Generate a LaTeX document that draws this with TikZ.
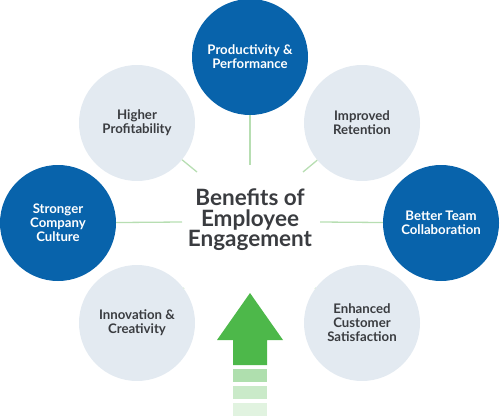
\documentclass[tikz,border=0pt]{standalone}
\usepackage{fontspec}
\setmainfont{Lato}
\usepackage{tikz}
\usetikzlibrary{positioning,calc}
\definecolor{engblue}{RGB}{8,99,171}
\definecolor{engpale}{RGB}{227,234,241}
\definecolor{enggreen}{RGB}{77,184,74}
\definecolor{englink}{RGB}{183,222,178}
\definecolor{engtext}{RGB}{58,60,64}

\tikzset{
  benefit/.style={circle,minimum size=116pt,inner sep=0pt,align=center,font=\bfseries\fontsize{13.2}{14}\selectfont},
  darkbenefit/.style={benefit,fill=engblue,text=white},
  lightbenefit/.style={benefit,fill=engpale,text=engtext},
  spoke/.style={englink,line width=1.3pt}
}

\begin{document}
\begin{tikzpicture}[x=1pt,y=-1pt]
  \useasboundingbox (0,0) rectangle (500,417);
  \node[align=center,text=engtext,font=\bfseries\fontsize{22.5}{20.5}\selectfont] (hub) at (250,220) {Benefits of\\Employee\\Engagement};
  \foreach \name/\x/\y/\kind/\lbl/\ex/\ey in {
    prod/250/57/darkbenefit/{Productivity \&\\Performance}/250/165,
    profit/137/123/lightbenefit/{Higher\\Profitability}/197/172,
    retain/362/123/lightbenefit/{Improved\\Retention}/303/172,
    culture/58/223/darkbenefit/{Stronger\\Company\\Culture}/182/222,
    team/441/223/darkbenefit/{Better Team\\Collaboration}/320/222,
    innov/137/323/lightbenefit/{Innovation \&\\Creativity}/184/288,
    cust/362/323/lightbenefit/{Enhanced\\Customer\\Satisfaction}/315/288}{
    \node[\kind] (\name) at (\x,\y) {\lbl};
    \coordinate (\name-end) at (\ex,\ey);
    \draw[spoke] (\name) -- (\name-end);
  }
  % arrow with fading steps
  \fill[enggreen] (250,293) -- (283,340) -- (267,340) -- (267,365) -- (233,365) -- (233,340) -- (217,340) -- cycle;
  \foreach \y/\shade in {369/45,386/30,403/17}{
    \fill[enggreen!\shade] (233,\y) rectangle (267,\y+13);
  }
\end{tikzpicture}
\end{document}
